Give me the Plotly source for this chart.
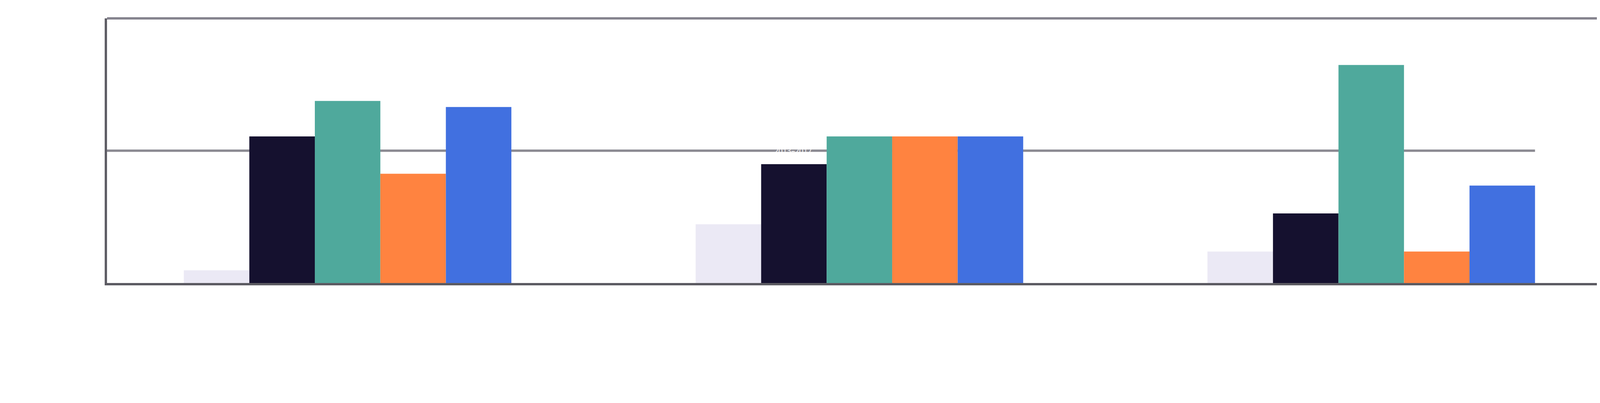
import plotly.graph_objects as go

# three groups, five series (no labels are shown on the chart)
groups = ["A", "B", "C"]
series_names = ["S1", "S2", "S3", "S4", "S5"]
series_colors = ["#EBE9F5", "#15112F", "#4FA99C", "#FF8340", "#4170E0"]

s1 = [4.8, 22.2, 11.9]
s2 = [55.4, 44.9, 26.3]
s3 = [68.8, 55.4, 82.4]
s4 = [41.3, 55.4, 11.9]
s5 = [66.5, 55.4, 36.8]
series_values = [s1, s2, s3, s4, s5]

ref_value = 50
ref_label = "2013–2017"
y_max = 100

bargap = 0.36
x_start = -0.47
x_end = 2.45

fig = go.Figure()
for name, vals, col in zip(series_names, series_values, series_colors):
    fig.add_trace(go.Bar(
        x=list(range(len(groups))), y=vals, name=name,
        marker=dict(color=col, line=dict(width=0)),
        hoverinfo="skip",
    ))

# reference line: from the axis to the end of the last group
last_edge = len(groups) - 1 + (1 - bargap) / 2
fig.add_shape(type="line", xref="x", yref="y",
              x0=x_start, x1=last_edge, y0=ref_value, y1=ref_value,
              line=dict(color="#8b8a92", width=6), layer="below")
# top frame line
fig.add_shape(type="line", xref="paper", yref="paper",
              x0=0, x1=1, y0=1, y1=1,
              line=dict(color="#86848f", width=6))

fig.add_annotation(xref="paper", yref="y", x=0.459, y=ref_value,
                   text=ref_label, showarrow=False,
                   font=dict(family="Noto Sans", size=19, color="#ffffff"))

fig.update_layout(
    width=4092, height=965,
    margin=dict(l=266, r=0, t=39, b=249),
    barmode="group", bargap=bargap, bargroupgap=0,
    plot_bgcolor="#ffffff", paper_bgcolor="#ffffff",
    showlegend=False,
    font=dict(family="Noto Sans"),
)
fig.update_xaxes(range=[x_start, x_end], showticklabels=False, showgrid=False,
                 zeroline=False, showline=True, linecolor="#5c5b62", linewidth=6,
                 ticks="")
fig.update_yaxes(range=[0, y_max], showticklabels=False, showgrid=False,
                 zeroline=True, zerolinecolor="#cfced4", zerolinewidth=1,
                 showline=True, linecolor="#5f5e66", linewidth=6, ticks="")

fig.write_html("out.html")
